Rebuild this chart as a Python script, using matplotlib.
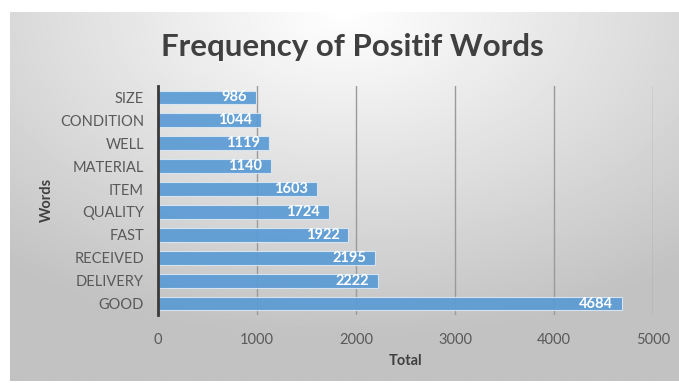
import matplotlib.pyplot as plt
import numpy as np

words = ["GOOD", "DELIVERY", "RECEIVED", "FAST", "QUALITY", "ITEM",
         "MATERIAL", "WELL", "CONDITION", "SIZE"]
totals = [4684, 2222, 2195, 1922, 1724, 1603, 1140, 1119, 1044, 986]
xticks = [0, 1000, 2000, 3000, 4000, 5000]

plt.rcParams["font.family"] = ["Lato", "DejaVu Sans"]

fig = plt.figure(figsize=(6.79, 3.83), dpi=100)

# gradient background of the chart area (white strip at top/left)
bg = fig.add_axes([10 / 679, 2 / 383, 669 / 679, 369 / 383], zorder=-10)
yy, xx = np.mgrid[0:1:300j, 0:1:600j]
d = np.sqrt(((xx - 0.5) * 1.0) ** 2 + ((yy - 0.0) * 0.9) ** 2)
shade = 1.0 - 0.24 * np.clip(d / 0.8, 0, 1)
bg.imshow(shade, cmap="gray", vmin=0, vmax=1, aspect="auto",
          extent=[0, 1, 0, 1], origin="upper")
bg.axis("off")

ax = fig.add_axes([158 / 679, 1 - 315 / 383, 495 / 679, 229 / 383])
ax.patch.set_alpha(0)
ypos = np.arange(len(words))
bars = ax.barh(ypos, totals, height=0.6, color="#5b9bd5", alpha=0.92,
               edgecolor="#dbe8f5", linewidth=0.8, zorder=2)
for b, v in zip(bars, totals):
    ax.text(b.get_width() - 90, b.get_y() + b.get_height() / 2, str(v),
            ha="right", va="center", color="white", fontsize=10.5,
            fontweight="bold", zorder=3)

ax.set_xlim(0, 5000)
ax.set_ylim(-0.5, len(words) - 0.5)
ax.set_xticks(xticks)
ax.set_yticks(ypos)
ax.set_yticklabels(words)
ax.tick_params(axis="both", length=0, labelsize=10.5, colors="#595959")
ax.tick_params(axis="y", pad=10)
ax.tick_params(axis="x", pad=13)
ax.grid(axis="x", color="#9a9a9a", linewidth=1, zorder=1)
for s in ["top", "right", "bottom"]:
    ax.spines[s].set_visible(False)
ax.spines["left"].set_color("#3a3a3a")
ax.spines["left"].set_linewidth(2)
ax.spines["left"].set_zorder(4)

ax.set_xlabel("Total", fontsize=10.5, fontweight="bold", color="#404040",
              labelpad=5)
fig.text(47 / 679, 1 - 200 / 383, "Words", rotation=90, ha="center",
         va="center", fontsize=10.5, fontweight="bold", color="#404040")
fig.text(352 / 679, 1 - 47 / 383, "Frequency of Positif Words",
         ha="center", va="center", fontsize=22.5, fontweight="bold",
         color="#404040")

fig.savefig("out.png", dpi=100)
